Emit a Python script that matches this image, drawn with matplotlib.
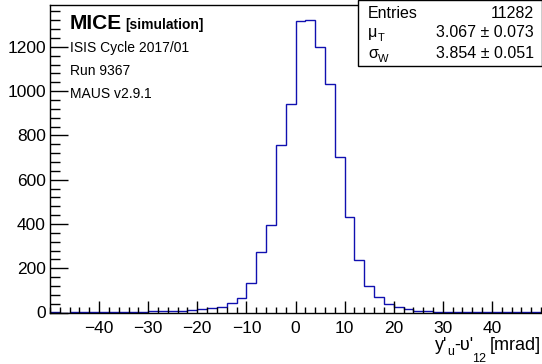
import numpy as np
import matplotlib
matplotlib.use("Agg")
import matplotlib.pyplot as plt
from matplotlib.ticker import MultipleLocator

plt.rcParams['font.family'] = ['Liberation Sans', 'DejaVu Sans']

# histogram data, 2 mrad bins from -50 to 50
bin_edges = np.arange(-50, 51, 2)
counts = [1, 0, 1, 1, 2, 2, 2, 3, 4, 4,
          5, 6, 8, 6, 10, 18, 21, 25, 43, 64,
          133, 275, 396, 755, 942, 1316, 1323, 1201, 1033, 701,
          433, 238, 120, 70, 40, 24, 15, 9, 5, 4,
          4, 3, 2, 2, 2, 1, 2, 1, 1, 1]

stat_labels = ['Entries', 'μ', 'σ']
stat_subs = ['', 'T', 'W']
stat_values = ['11282', '3.067 ± 0.073', '3.854 ± 0.051']
info_lines = ['ISIS Cycle 2017/01', 'Run 9367', 'MAUS v2.9.1']

W, H = 542, 364
fig = plt.figure(figsize=(W / 100, H / 100), dpi=100)
ax = fig.add_axes([50 / W, (H - 312.5) / H, 491 / W, 307.5 / H])

ax.stairs(counts, bin_edges, color='#1010b0', lw=1.0)

ax.set_xlim(-50, 50)
ax.set_ylim(0, max(counts) * 1.05)

ax.xaxis.set_major_locator(MultipleLocator(10))
ax.xaxis.set_minor_locator(MultipleLocator(2))
ax.yaxis.set_major_locator(MultipleLocator(200))
ax.yaxis.set_minor_locator(MultipleLocator(40))
ax.tick_params(which='both', direction='in', top=False, right=False,
               labelsize=12.5, width=1, color='black')
ax.tick_params(axis='x', which='major', length=9, pad=6)
ax.tick_params(axis='x', which='minor', length=4.5)
ax.tick_params(axis='y', which='major', length=13, pad=3)
ax.tick_params(axis='y', which='minor', length=7)
ax.set_xticks([-40, -30, -20, -10, 0, 10, 20, 30, 40])
ax.spines['right'].set_visible(False)
for side in ['top', 'bottom', 'left']:
    ax.spines[side].set_linewidth(1)

# axis title, ROOT style at bottom right
lab_y = 1 - 350 / H
fig.text(435 / W, lab_y, "y'", ha='left', va='baseline', fontsize=13)
fig.text(447 / W, 1 - 355 / H, "u", ha='left', va='baseline', fontsize=9)
fig.text(454 / W, lab_y, "-υ'", ha='left', va='baseline', fontsize=13)
fig.text(472 / W, 1 - 362 / H, "12", ha='left', va='baseline', fontsize=9)
fig.text(541 / W, lab_y, "[mrad]", ha='right', va='baseline', fontsize=13)

# MICE label
fig.text(70 / W, 1 - 29 / H, "MICE", ha='left', va='baseline', fontsize=15, fontweight='bold')
fig.text(125 / W, 1 - 29 / H, "[simulation]", ha='left', va='baseline', fontsize=10, fontweight='bold')
for i, line in enumerate(info_lines):
    fig.text(70 / W, 1 - (52 + 23 * i) / H, line, ha='left', va='baseline', fontsize=10)

# stats box
box = plt.Rectangle((357.5 / W, 1 - 66 / H), 184 / W, 66 / H, transform=fig.transFigure,
                    fill=True, facecolor='white', edgecolor='black', lw=1, zorder=5)
fig.patches.append(box)
rows_y = [18, 37, 58]
for lab, sub, val, yy in zip(stat_labels, stat_subs, stat_values, rows_y):
    fig.text(368 / W, 1 - yy / H, lab, ha='left', va='baseline', fontsize=11.5, zorder=6)
    if sub:
        fig.text(377.5 / W, 1 - (yy + 4) / H, sub, ha='left', va='baseline', fontsize=8, zorder=6)
    fig.text(534 / W, 1 - yy / H, val, ha='right', va='baseline', fontsize=11.5, zorder=6)

plt.savefig('out.png', dpi=100)
